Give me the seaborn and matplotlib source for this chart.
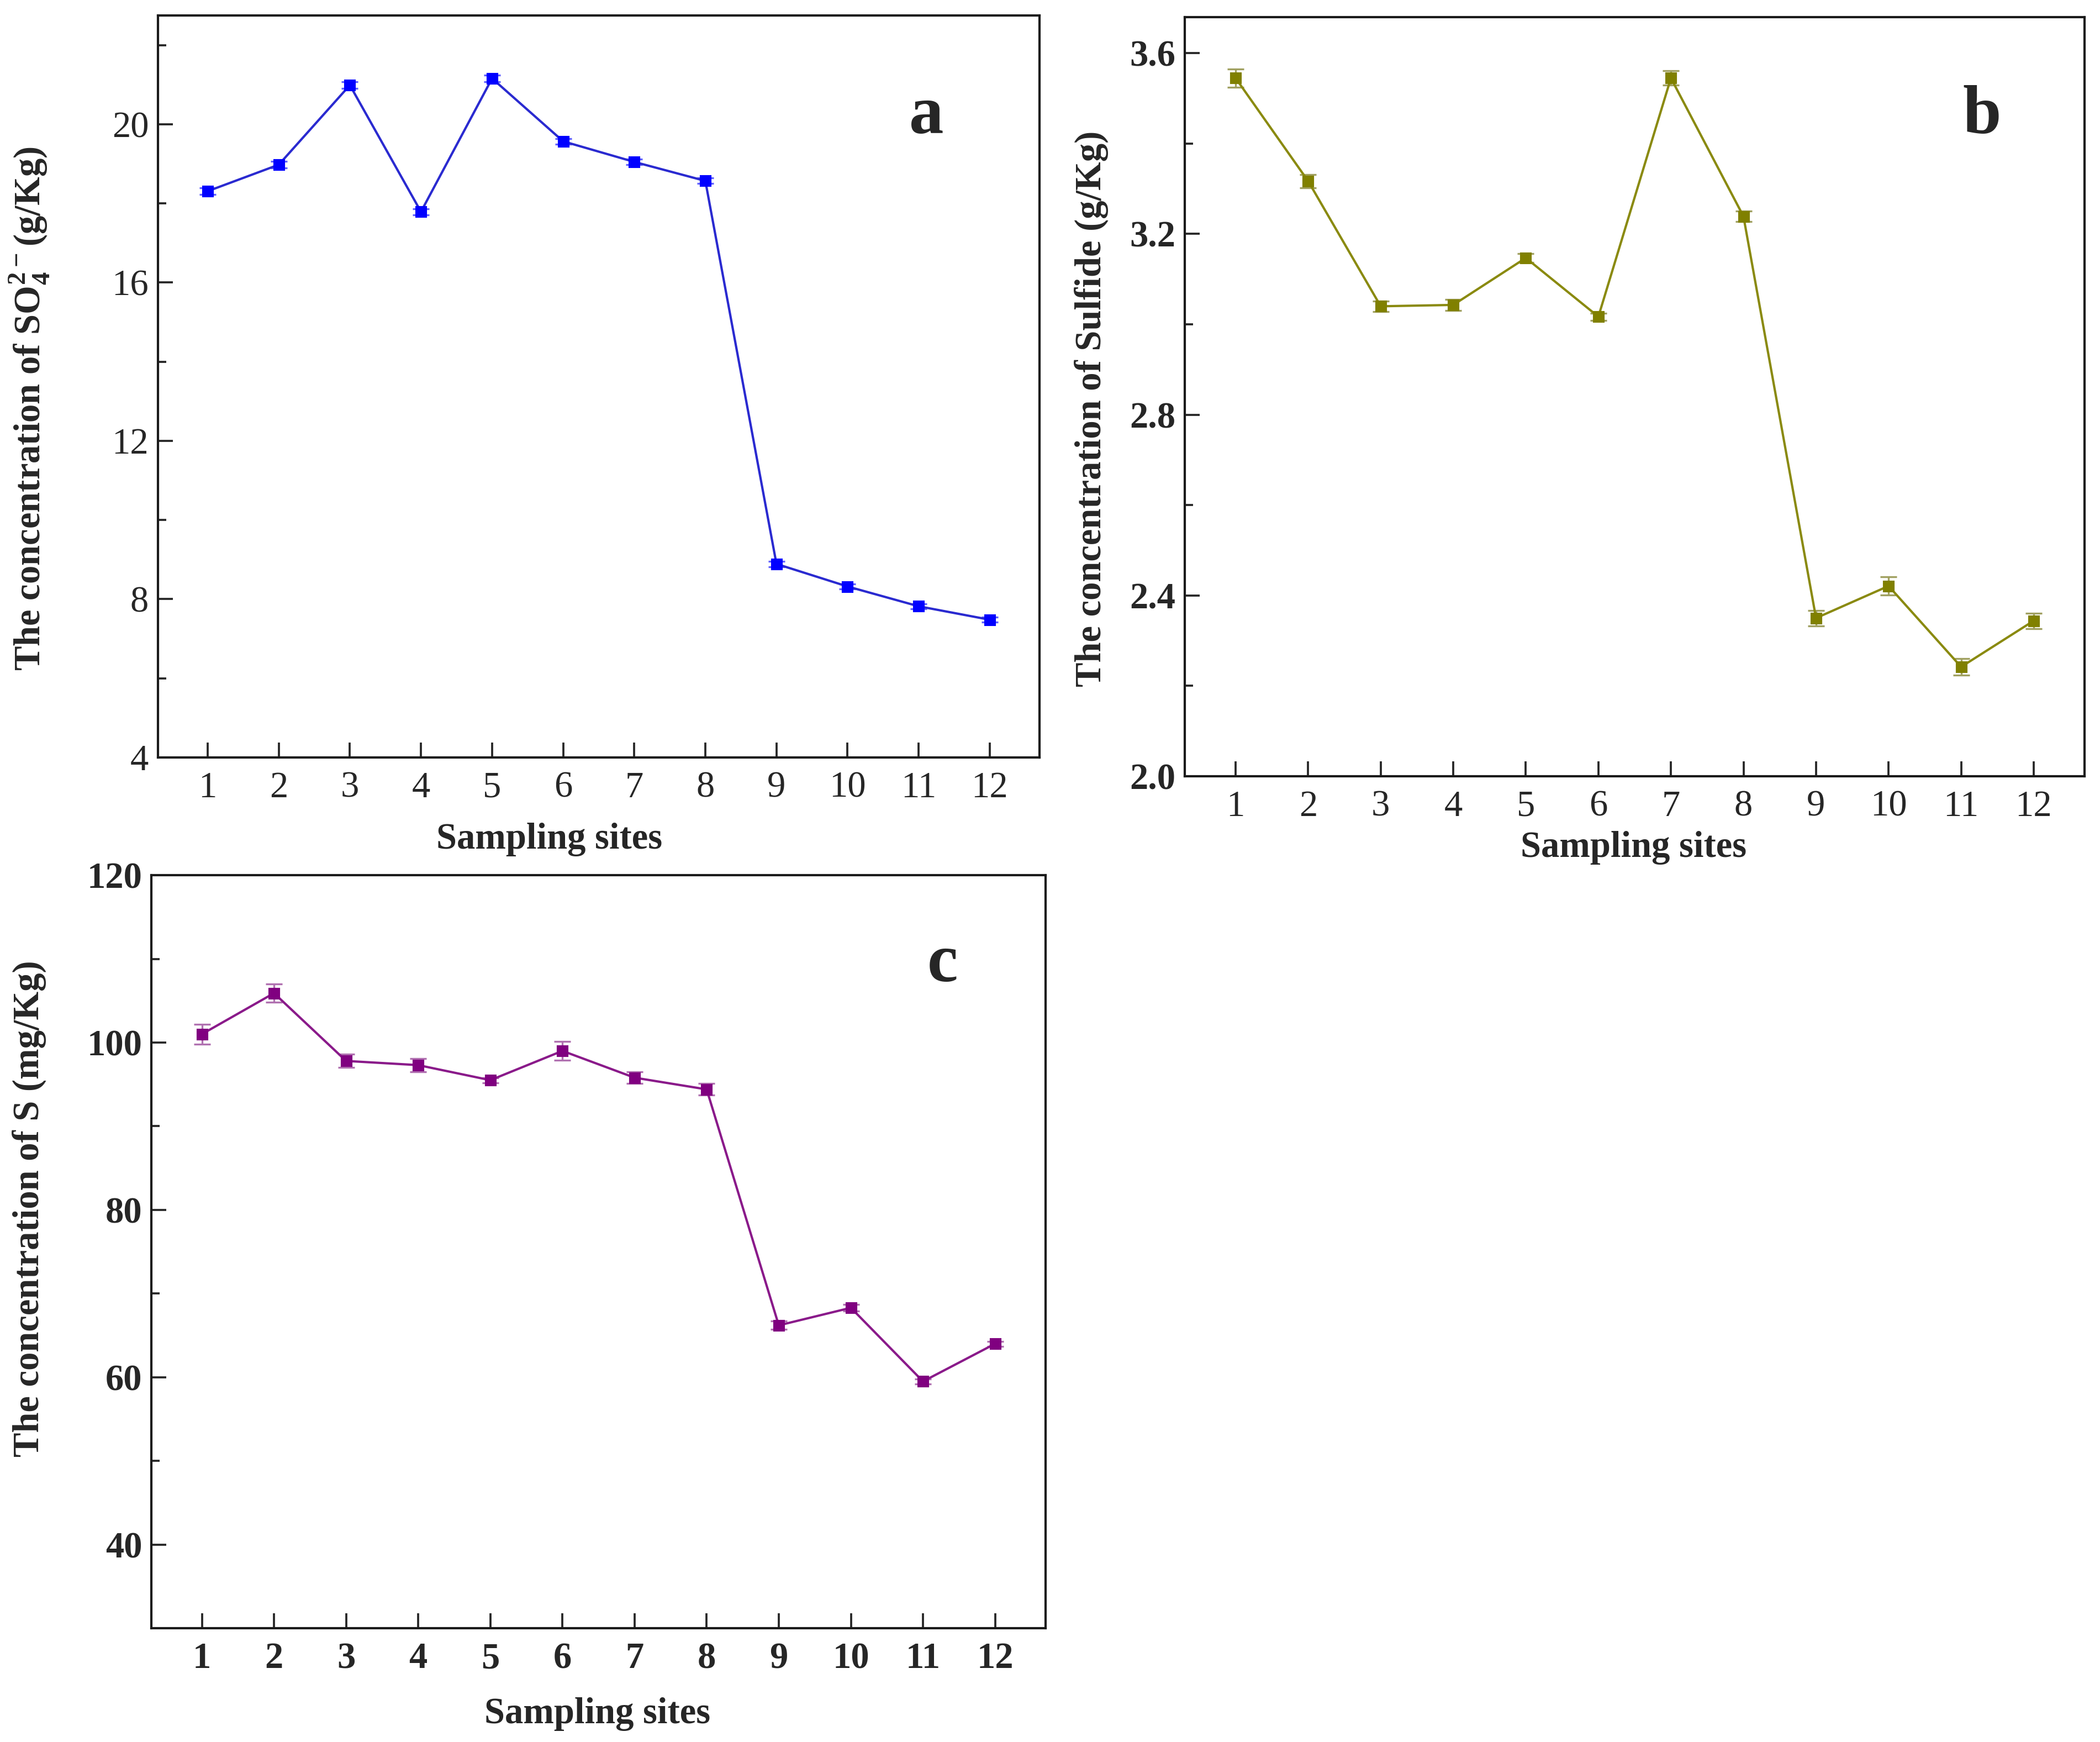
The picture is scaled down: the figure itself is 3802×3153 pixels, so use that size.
import matplotlib
matplotlib.use('Agg')
import numpy as np
import pandas as pd
import seaborn as sns
import matplotlib.pyplot as plt
from matplotlib.ticker import MultipleLocator, FormatStrFormatter

sites = list(range(1, 13))

sulfate = [18.31, 18.98, 20.99, 17.79, 21.16, 19.57, 19.05, 18.57, 8.89, 8.32, 7.82, 7.48]
sulfate_err = [0.08, 0.08, 0.08, 0.08, 0.08, 0.07, 0.07, 0.07, 0.07, 0.06, 0.06, 0.06]

sulfide = [3.545, 3.317, 3.040, 3.043, 3.147, 3.017, 3.545, 3.239, 2.350, 2.421, 2.242, 2.344]
sulfide_err = [0.020, 0.015, 0.012, 0.012, 0.010, 0.008, 0.016, 0.012, 0.017, 0.020, 0.018, 0.017]

total_s = [101.0, 105.9, 97.8, 97.3, 95.5, 99.0, 95.8, 94.4, 66.2, 68.3, 59.5, 64.0]
total_s_err = [1.2, 1.1, 0.8, 0.8, 0.3, 1.1, 0.7, 0.7, 0.5, 0.4, 0.3, 0.3]

sns.set_style('ticks')
plt.rcParams['font.family'] = ['Liberation Serif', 'DejaVu Serif']
plt.rcParams['mathtext.fontset'] = 'custom'
plt.rcParams['mathtext.rm'] = 'Liberation Serif'
plt.rcParams['mathtext.bf'] = 'Liberation Serif:bold'

fig = plt.figure(figsize=(3802 / 300, 3153 / 300), dpi=300)
ax_a = fig.add_axes([0.0752, 0.5652, 0.4198, 0.4259])
ax_b = fig.add_axes([0.5642, 0.5544, 0.4284, 0.4358])
ax_c = fig.add_axes([0.0721, 0.0653, 0.4258, 0.4323])

panels = [
    (ax_a, sulfate, sulfate_err, '#0000ff', '#2a2ad0', '#6060ff',
     r'The concentration of SO$_\mathbf{4}^{\mathbf{2-}}$(g/Kg)', (4, 22.75), 4, 'a',
     (0.872, 0.864), (-0.146, 0.47), (0.444, -0.111), 'normal', 'normal'),
    (ax_b, sulfide, sulfide_err, '#808000', '#8a8a10', '#a0a060',
     'The concentration of Sulfide (g/Kg)', (2.0, 3.68), 0.4, 'b',
     (0.886, 0.869), (-0.104, 0.484), (0.499, -0.0946), 'bold', 'normal'),
    (ax_c, total_s, total_s_err, '#800080', '#8a1a8a', '#b070b0',
     'The concentration of S (mg/Kg)', (30, 120), 20, 'c',
     (0.885, 0.881), (-0.1365, 0.557), (0.499, -0.114), 'bold', 'bold'),
]

for (ax, vals, errs, mcol, lcol, ecol, ylab, ylim, step, letter,
     letter_pos, ylab_pos, xlab_pos, yw, xw) in panels:
    df = pd.DataFrame({'site': sites, 'value': vals})
    ax.errorbar(df['site'], df['value'], yerr=errs, fmt='none',
                ecolor=ecol, elinewidth=0.8, capsize=3.5, capthick=0.8, zorder=2)
    sns.lineplot(data=df, x='site', y='value', ax=ax, color=lcol, lw=1.0,
                 marker='s', markersize=4.2, markerfacecolor=mcol,
                 markeredgecolor=mcol, zorder=3)
    ax.set_xlim(0.3, 12.7)
    ax.set_ylim(*ylim)
    ax.set_xticks(sites)
    ax.yaxis.set_major_locator(MultipleLocator(step))
    ax.yaxis.set_minor_locator(MultipleLocator(step / 2))
    if letter == 'b':
        ax.yaxis.set_major_formatter(FormatStrFormatter('%.1f'))
    ax.tick_params(axis='both', which='major', direction='in', length=6.5,
                   width=0.9, labelsize=16, pad=6)
    ax.tick_params(axis='y', which='minor', direction='in', length=3.5, width=0.9)
    ax.tick_params(axis='y', which='major', pad=4)
    for lab in ax.get_yticklabels():
        lab.set_fontweight(yw)
    for lab in ax.get_xticklabels():
        lab.set_fontweight(xw)
    for sp in ax.spines.values():
        sp.set_visible(True)
        sp.set_linewidth(1.0)
        sp.set_color('#1a1a1a')
    ax.set_xlabel('Sampling sites', fontsize=16, fontweight='bold')
    ax.set_ylabel(ylab, fontsize=16, fontweight='bold')
    ax.xaxis.set_label_coords(*xlab_pos)
    ax.xaxis.label.set_verticalalignment('center')
    ax.yaxis.set_label_coords(*ylab_pos)
    ax.yaxis.label.set_verticalalignment('center')
    ax.text(letter_pos[0], letter_pos[1], letter, transform=ax.transAxes,
            fontsize=30, fontweight='bold', ha='center', va='center')

fig.savefig('out.png', dpi=300, facecolor='white')
